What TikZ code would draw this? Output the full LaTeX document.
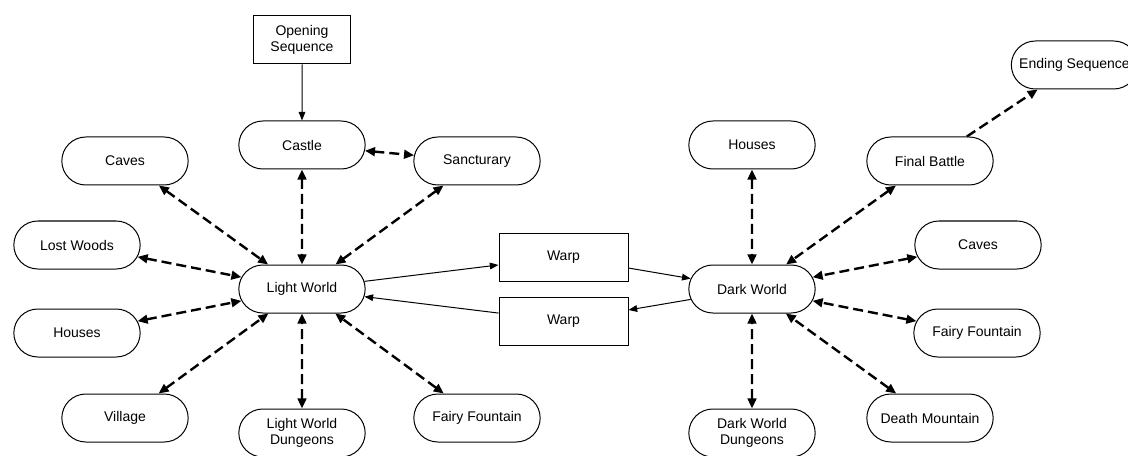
\documentclass[tikz,border=0pt]{standalone}
\usepackage{fontspec}
\setmainfont{Liberation Sans}
\usetikzlibrary{shapes.misc,arrows.meta}

\begin{document}
\begin{tikzpicture}[x=0.75pt, y=-0.75pt,
            area/.style={draw, line width=0.75pt, rounded rectangle, minimum width=96.75pt, minimum height=36pt, inner sep=1pt, align=center, font=\fontsize{10.5}{12.5}\selectfont},
            panel/.style={draw, line width=0.75pt, rectangle, minimum height=36pt, inner sep=1pt, align=center, font=\fontsize{10.5}{12.5}\selectfont},
            dashlink/.style={line width=1.8pt, dash pattern=on 7.5pt off 3.75pt},
            biway/.style={dashlink, {Triangle[length=7.5pt,width=6.5pt]}-{Triangle[length=7.5pt,width=6.5pt]}},
            oneway/.style={line width=0.75pt, -{Triangle[length=6.5pt,width=5pt]}}]
            \useasboundingbox (0,0) rectangle (1128,456);
            \node[panel, minimum width=72.75pt] (opening) at (302,40) {Opening\\Sequence};
            \node[area] (castle) at (302,145) {Castle};
            \node[area] (sanctuary) at (477,161) {Sancturary};
            \node[area] (lwcaves) at (125,161) {Caves};
            \node[area] (lostwoods) at (77,245) {Lost Woods};
            \node[area] (lightworld) at (302,289) {Light World};
            \node[area] (lwhouses) at (77,333) {Houses};
            \node[area] (village) at (125,418) {Village};
            \node[area] (lwdungeons) at (302,433) {Light World\\Dungeons};
            \node[area] (lwfountain) at (477,418) {Fairy Fountain};
            \node[panel, minimum width=96.75pt] (warpa) at (563.5,257) {Warp};
            \node[panel, minimum width=96.75pt] (warpb) at (563.5,321) {Warp};
            \node[area] (darkworld) at (752,289) {Dark World};
            \node[area] (dwhouses) at (752,145) {Houses};
            \node[area] (finalbattle) at (930,161) {Final Battle};
            \node[area] (ending) at (1074.5,65) {Ending Sequence};
            \node[area] (dwcaves) at (978,245) {Caves};
            \node[area] (dwfountain) at (977,333) {Fairy Fountain};
            \node[area] (deathmtn) at (930,418) {Death Mountain};
            \node[area] (dwdungeons) at (752,433) {Dark World\\Dungeons};
            \draw[oneway] (opening) -- (castle);
            \draw[biway] (castle) -- (sanctuary);
            \draw[biway] (castle) -- (lightworld);
            \draw[biway] (sanctuary) -- (lightworld);
            \draw[biway] (lwcaves) -- (lightworld);
            \draw[biway] (lostwoods) -- (lightworld);
            \draw[biway] (lwhouses) -- (lightworld);
            \draw[biway] (village) -- (lightworld);
            \draw[biway] (lwdungeons) -- (lightworld);
            \draw[biway] (lwfountain) -- (lightworld);
            \draw[oneway] (lightworld) -- (warpa);
            \draw[oneway] (warpa) -- (darkworld);
            \draw[oneway] (darkworld) -- (warpb);
            \draw[oneway] (warpb) -- (lightworld);
            \draw[biway] (dwhouses) -- (darkworld);
            \draw[biway] (finalbattle) -- (darkworld);
            \draw[biway] (dwcaves) -- (darkworld);
            \draw[biway] (dwfountain) -- (darkworld);
            \draw[biway] (deathmtn) -- (darkworld);
            \draw[biway] (dwdungeons) -- (darkworld);
            \draw[dashlink, -{Triangle[length=7.5pt,width=6.5pt]}] (finalbattle) -- (ending);
        \end{tikzpicture}
\end{document}
